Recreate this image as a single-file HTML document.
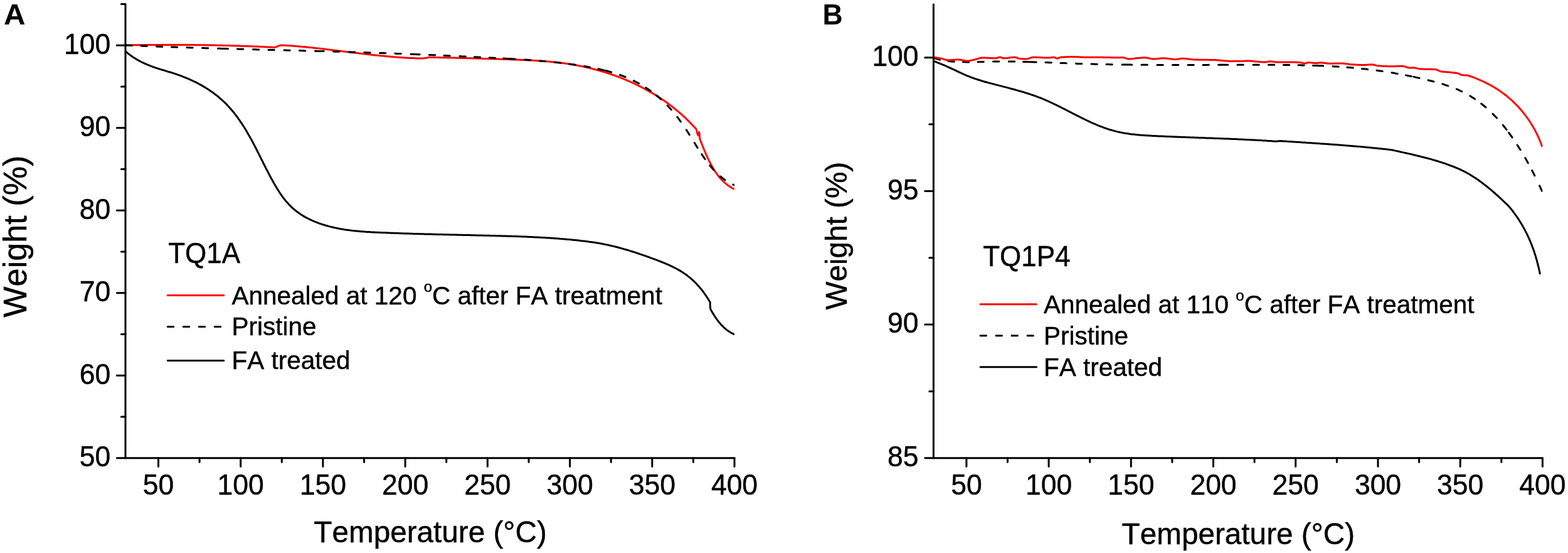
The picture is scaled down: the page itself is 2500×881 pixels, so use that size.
<!DOCTYPE html>
<html lang="en">
<head>
<meta charset="utf-8">
<title>TGA weight loss curves: TQ1A and TQ1P4</title>
<style>
html,body{margin:0;padding:0;background:#fff;}
body{width:2500px;height:881px;overflow:hidden;}
svg{display:block;}
text{font-family:"Liberation Sans",sans-serif;fill:#000;font-kerning:none;stroke:#000;stroke-width:0.45px;stroke-linejoin:round;}
.pl{stroke-width:0;}
.tk{font-size:44.5px;}
.pl{font-size:44.5px;font-weight:bold;}
.ttl{font-size:44px;}
.lg{font-size:40.5px;}
.sup{font-size:24px;}
.xt{font-size:47.7px;}
.yt{font-size:52.2px;}
</style>
</head>
<body>
<svg width="2500" height="881" viewBox="0 0 2500 881">
<rect width="2500" height="881" fill="#fff"/>
<g id="panelA">
<clipPath id="cA"><rect x="200.0" y="0" width="971.0" height="729.7"/></clipPath>
<g clip-path="url(#cA)" fill="none" stroke-width="3" stroke-linejoin="round">
<path d="M200.0 72.0L202.0 72.0L204.0 71.9L206.1 71.9L208.1 71.9L210.1 71.9L212.1 71.8L214.1 71.8L216.1 71.8L218.2 71.8L220.2 71.8L222.2 71.7L224.2 71.7L226.2 71.7L228.2 71.7L230.3 71.7L232.3 71.6L234.3 71.6L236.3 71.6L238.3 71.6L240.4 71.6L242.4 71.6L244.4 71.6L246.4 71.5L248.4 71.5L250.4 71.5L252.5 71.5L254.5 71.5L256.5 71.5L258.5 71.5L260.5 71.5L262.5 71.5L264.6 71.5L266.6 71.5L268.6 71.5L270.6 71.5L272.6 71.5L274.7 71.5L276.7 71.5L278.7 71.5L280.7 71.5L282.7 71.5L284.7 71.5L286.8 71.5L288.8 71.5L290.8 71.5L292.8 71.5L294.8 71.5L296.8 71.5L298.9 71.6L300.9 71.6L302.9 71.6L304.9 71.6L306.9 71.6L309.0 71.6L311.0 71.7L313.0 71.7L315.0 71.7L317.0 71.7L319.0 71.7L321.1 71.8L323.1 71.8L325.1 71.8L327.1 71.8L329.1 71.9L331.1 71.9L333.2 71.9L335.2 72.0L337.2 72.0L339.2 72.0L341.2 72.1L343.2 72.1L345.3 72.2L347.3 72.2L349.3 72.2L351.3 72.3L353.3 72.3L355.4 72.4L357.4 72.4L359.4 72.5L361.4 72.5L363.4 72.6L365.4 72.6L367.5 72.7L369.5 72.7L371.5 72.8L373.5 72.9L375.5 72.9L377.5 73.0L379.6 73.0L381.6 73.1L383.6 73.2L385.6 73.2L387.6 73.3L389.6 73.4L391.7 73.4L393.7 73.5L395.7 73.6L397.7 73.7L399.7 73.7L401.7 73.8L403.8 73.9L405.8 74.0L407.8 74.1L409.8 74.1L411.8 74.2L413.8 74.3L415.8 74.4L417.9 74.5L419.9 74.6L421.9 74.7L423.9 74.8L425.9 74.9L427.9 75.0L430.0 75.1L432.0 75.2L434.0 75.3L436.0 75.4L436.0 75.4L438.5 75.4L440.7 74.7L442.9 73.6L445.2 72.8L447.6 72.3L450.0 72.1L450.0 72.1L452.0 72.2L454.0 72.3L456.0 72.4L458.1 72.6L460.1 72.7L462.1 72.8L464.1 73.0L466.1 73.1L468.1 73.3L470.1 73.4L472.1 73.6L474.1 73.7L476.2 73.9L478.2 74.1L480.2 74.3L482.2 74.4L484.2 74.6L486.2 74.8L488.2 75.0L490.2 75.2L492.2 75.4L494.2 75.6L496.2 75.8L498.3 76.0L500.3 76.2L502.3 76.4L504.3 76.7L506.3 76.9L508.3 77.1L510.3 77.3L512.3 77.6L514.3 77.8L516.3 78.0L518.3 78.2L520.3 78.5L522.3 78.7L524.3 79.0L526.3 79.2L528.3 79.4L530.3 79.7L532.3 79.9L534.3 80.2L536.3 80.4L538.4 80.7L540.4 80.9L542.4 81.2L544.4 81.4L546.4 81.7L548.4 81.9L550.4 82.2L552.4 82.4L554.4 82.7L556.4 82.9L558.4 83.2L560.4 83.4L562.4 83.7L564.4 83.9L566.4 84.1L568.4 84.4L570.4 84.6L572.4 84.9L574.4 85.1L576.4 85.4L578.4 85.6L580.4 85.8L582.4 86.1L584.5 86.3L586.5 86.5L588.5 86.8L590.5 87.0L592.5 87.2L594.5 87.5L596.5 87.7L598.5 87.9L600.5 88.1L602.5 88.3L604.5 88.5L606.5 88.7L608.5 88.9L610.5 89.1L612.5 89.3L614.6 89.5L616.6 89.7L618.6 89.9L620.6 90.1L622.6 90.3L624.6 90.4L626.6 90.6L628.6 90.8L630.6 90.9L632.6 91.1L634.7 91.2L636.7 91.4L638.7 91.5L640.7 91.7L642.7 91.8L644.7 91.9L646.7 92.0L648.8 92.2L650.8 92.3L652.8 92.4L654.8 92.5L656.8 92.6L658.8 92.6L660.9 92.7L662.9 92.8L664.9 92.9L666.9 92.9L668.9 93.0L671.0 93.0L673.0 93.1L675.0 93.1L675.0 93.1L678.0 92.6L681.0 92.0L684.0 91.3L684.0 91.3L686.0 91.3L688.0 91.4L690.0 91.4L692.1 91.5L694.1 91.5L696.1 91.5L698.1 91.6L700.1 91.6L702.1 91.7L704.1 91.7L706.1 91.7L708.2 91.8L710.2 91.8L712.2 91.9L714.2 91.9L716.2 92.0L718.2 92.0L720.2 92.1L722.2 92.1L724.2 92.1L726.3 92.2L728.3 92.2L730.3 92.3L732.3 92.3L734.3 92.4L736.3 92.4L738.3 92.5L740.3 92.5L742.3 92.6L744.3 92.6L746.4 92.7L748.4 92.7L750.4 92.8L752.4 92.8L754.4 92.9L756.4 93.0L758.4 93.0L760.4 93.1L762.4 93.1L764.4 93.2L766.4 93.2L768.5 93.3L770.5 93.4L772.5 93.4L774.5 93.5L776.5 93.5L778.5 93.6L780.5 93.7L782.5 93.7L784.5 93.8L786.5 93.8L788.6 93.9L790.6 94.0L792.6 94.0L794.6 94.1L796.6 94.2L798.6 94.2L800.6 94.3L802.6 94.4L804.7 94.4L806.7 94.5L808.7 94.6L810.7 94.6L812.7 94.7L814.7 94.8L816.7 94.8L818.7 94.9L820.8 95.0L822.8 95.1L824.8 95.1L826.8 95.2L828.8 95.3L830.8 95.4L832.8 95.5L834.9 95.5L836.9 95.6L838.9 95.7L840.9 95.8L842.9 95.9L844.9 96.0L846.9 96.1L849.0 96.2L851.0 96.4L853.0 96.5L855.0 96.6L857.0 96.7L859.0 96.9L861.0 97.0L863.0 97.1L865.0 97.3L867.0 97.4L869.1 97.6L871.1 97.8L873.1 97.9L875.1 98.1L877.1 98.3L879.1 98.5L881.1 98.7L883.1 98.9L885.1 99.1L887.1 99.3L889.1 99.5L891.1 99.8L893.1 100.0L895.1 100.3L897.1 100.5L899.1 100.8L901.0 101.1L903.0 101.3L905.0 101.6L907.0 101.9L909.0 102.2L911.0 102.6L913.0 102.9L914.9 103.2L916.9 103.6L918.9 103.9L920.9 104.3L922.9 104.7L924.8 105.1L926.8 105.5L928.8 105.9L930.7 106.3L932.7 106.7L934.7 107.2L936.6 107.6L938.6 108.1L940.5 108.5L942.5 109.0L944.4 109.5L946.4 110.0L948.3 110.5L950.3 111.0L952.2 111.5L954.2 112.1L956.1 112.6L958.0 113.2L960.0 113.7L961.9 114.3L963.8 114.9L965.7 115.5L967.6 116.1L969.6 116.7L971.5 117.3L973.4 118.0L975.3 118.6L977.2 119.3L979.1 119.9L981.0 120.6L982.8 121.3L984.7 122.0L986.6 122.7L988.5 123.4L990.4 124.2L992.2 124.9L994.1 125.6L996.0 126.4L997.8 127.2L999.7 128.0L1001.5 128.8L1003.4 129.6L1005.2 130.4L1007.0 131.2L1008.9 132.0L1010.7 132.9L1012.5 133.7L1014.3 134.6L1016.1 135.5L1018.0 136.4L1019.8 137.3L1021.6 138.2L1023.3 139.1L1025.1 140.0L1026.9 141.0L1028.7 141.9L1030.5 142.9L1032.2 143.9L1034.0 144.9L1035.7 145.9L1037.5 146.9L1039.2 147.9L1041.0 148.9L1042.7 150.0L1044.4 151.0L1046.1 152.1L1047.8 153.2L1049.5 154.2L1051.2 155.3L1052.9 156.4L1054.6 157.6L1056.3 158.7L1057.9 159.8L1059.6 161.0L1061.2 162.1L1062.9 163.3L1064.5 164.5L1066.1 165.7L1067.8 166.9L1069.4 168.1L1071.0 169.3L1072.6 170.5L1074.1 171.8L1075.7 173.0L1077.3 174.3L1078.8 175.6L1080.4 176.9L1081.9 178.2L1083.5 179.5L1085.0 180.8L1086.5 182.1L1088.0 183.4L1089.5 184.8L1091.0 186.1L1092.4 187.5L1093.9 188.9L1095.3 190.3L1096.8 191.7L1098.2 193.1L1099.6 194.5L1101.0 196.0L1102.4 197.4L1103.8 198.9L1105.2 200.3L1106.5 201.8L1107.9 203.3L1109.2 204.8L1110.5 206.3L1110.5 206.3L1110.9 208.5L1111.4 210.6L1112.1 213.0L1113.0 215.4L1113.7 215.7L1114.3 213.1L1114.7 210.6L1115.0 211.2L1115.2 213.5L1115.3 216.3L1115.6 218.7L1116.0 220.9L1116.5 223.0L1116.5 223.0L1117.3 224.9L1118.0 226.8L1118.8 228.7L1119.5 230.6L1120.3 232.5L1121.1 234.5L1121.9 236.4L1122.6 238.3L1123.4 240.3L1124.3 242.2L1125.1 244.1L1125.9 246.1L1126.8 248.0L1127.6 249.9L1128.5 251.8L1129.4 253.7L1130.3 255.6L1131.3 257.5L1132.2 259.4L1133.2 261.3L1134.2 263.1L1135.2 265.0L1136.3 266.8L1137.3 268.6L1138.4 270.3L1139.5 272.1L1140.7 273.8L1141.9 275.5L1143.1 277.2L1144.3 278.9L1145.6 280.5L1146.9 282.1L1148.2 283.7L1149.6 285.2L1151.0 286.7L1152.4 288.2L1153.9 289.6L1155.4 291.0L1157.0 292.3L1158.6 293.6L1160.2 294.9L1161.9 296.1L1163.6 297.3L1165.4 298.4L1167.2 299.5L1169.1 300.5L1171.0 301.5" stroke="#f00"/>
<path d="M201.5 72.1L204.6 72.2L207.7 72.3L210.8 72.5M225.0 73.1L228.1 73.2L231.2 73.3L234.3 73.4M249.5 74.0L252.6 74.2L255.7 74.3L258.8 74.4M273.5 74.9L276.6 75.0L279.7 75.1L282.8 75.2M298.0 75.7L301.1 75.8L304.2 75.9L307.3 76.0M322.5 76.5L325.6 76.6L328.7 76.7L331.8 76.8M347.5 77.2L350.6 77.3L353.7 77.4L356.8 77.5M354.3 77.4L357.4 77.5L360.5 77.6L363.6 77.7M378.5 78.1L381.6 78.2L384.7 78.2L387.8 78.3M403.5 78.7L406.6 78.8L409.7 78.9L412.8 79.0M428.0 79.4L431.1 79.4L434.2 79.5L437.3 79.6M453.0 80.0L456.1 80.1L459.2 80.2L462.3 80.2M477.5 80.6L480.6 80.7L483.7 80.8L486.8 80.9M502.5 81.3L505.6 81.4L508.7 81.4L511.8 81.5M506.9 81.4L510.0 81.5L513.1 81.6L516.2 81.6M531.5 82.1L534.6 82.2L537.7 82.2L540.8 82.3M556.5 82.8L559.6 82.9L562.7 83.0L565.8 83.1M581.0 83.6L584.1 83.7L587.2 83.8L590.3 83.9M605.5 84.4L608.6 84.5L611.7 84.6L614.8 84.7M630.0 85.2L633.1 85.4L636.2 85.5L639.3 85.6M655.0 86.2L658.1 86.3L661.2 86.5L664.3 86.6M659.9 86.4L663.0 86.5L666.1 86.7L669.2 86.8M684.5 87.4L687.6 87.6L690.7 87.7L693.8 87.8M708.0 88.5L711.1 88.6L714.2 88.7L717.3 88.9M733.0 89.6L736.1 89.8L739.2 89.9L742.3 90.0M756.5 90.7L759.6 90.9L762.7 91.0L765.8 91.2M780.5 91.9L783.6 92.1L786.7 92.2L789.8 92.4M803.0 93.1L806.1 93.3L809.2 93.4L812.3 93.6M812.5 93.6L815.6 93.8L818.7 94.0L821.8 94.2M836.5 95.1L839.6 95.3L842.7 95.5L845.8 95.7M860.5 96.9L863.6 97.2L866.7 97.4L869.8 97.7M884.5 99.2L887.6 99.5L890.7 99.8L893.7 100.2M908.0 102.0L911.1 102.4L914.1 102.8L917.2 103.3M931.5 105.5L934.5 106.1L937.6 106.6L940.6 107.2M954.0 109.8L957.0 110.5L960.0 111.2L963.0 111.9M965.7 112.5L968.7 113.3L971.7 114.1L974.6 115.0M988.4 119.4L991.3 120.4L994.2 121.5L997.1 122.7M1010.3 128.6L1013.1 130.0L1015.9 131.5L1018.6 132.9M1029.8 139.7L1032.3 141.4L1034.9 143.1L1037.4 144.9M1046.7 152.0L1049.1 154.0L1051.4 156.0L1053.7 158.1M1064.0 168.0L1066.2 170.2L1068.3 172.5L1070.4 174.8M1079.9 186.3L1081.8 188.8L1083.6 191.3L1085.4 193.8M1094.3 206.9L1096.0 209.5L1097.7 212.2L1099.3 214.8M1107.3 227.6L1108.9 230.3L1110.6 232.9L1112.2 235.5M1118.8 245.7L1120.6 248.3L1122.3 250.8L1124.1 253.4M1131.9 263.7L1133.9 266.1L1135.9 268.5L1138.0 270.8M1148.6 281.0L1151.0 283.0L1153.5 284.9L1156.0 286.7M1168.9 294.0L1171.0 295.0" stroke="#000" stroke-linecap="round"/>
<path d="M200.0 81.7L201.6 83.0L203.1 84.3L204.7 85.6L206.3 86.8L207.9 88.0L209.6 89.2L211.2 90.4L212.9 91.5L214.6 92.5L216.3 93.6L218.0 94.6L219.8 95.6L221.5 96.6L223.3 97.5L225.0 98.5L226.8 99.4L228.6 100.2L230.4 101.1L232.2 101.9L234.1 102.7L235.9 103.5L237.8 104.2L239.6 104.9L241.5 105.6L243.4 106.3L245.3 107.0L247.1 107.6L249.0 108.3L250.9 108.9L252.9 109.5L254.8 110.1L256.7 110.7L258.6 111.3L260.5 111.8L262.5 112.4L264.4 113.0L266.3 113.6L268.2 114.2L270.2 114.7L272.1 115.3L274.0 115.9L275.9 116.5L277.8 117.1L279.8 117.8L281.7 118.4L283.6 119.1L285.5 119.7L287.4 120.4L289.3 121.1L291.1 121.8L293.0 122.6L294.9 123.3L296.8 124.1L298.6 124.9L300.5 125.6L302.3 126.4L304.1 127.3L306.0 128.1L307.8 129.0L309.6 129.8L311.4 130.7L313.2 131.6L315.0 132.5L316.7 133.5L318.5 134.4L320.3 135.4L322.0 136.4L323.7 137.4L325.5 138.4L327.2 139.4L328.9 140.5L330.6 141.5L332.2 142.6L333.9 143.7L335.6 144.9L337.2 146.0L338.8 147.1L340.4 148.3L342.0 149.5L343.6 150.7L345.2 151.9L346.8 153.2L348.3 154.4L349.8 155.7L351.3 157.0L352.8 158.3L354.3 159.6L355.8 161.0L357.2 162.3L358.7 163.7L360.1 165.1L361.5 166.6L362.9 168.0L364.2 169.5L365.6 170.9L366.9 172.4L368.2 173.9L369.5 175.4L370.8 177.0L372.1 178.5L373.4 180.1L374.6 181.7L375.8 183.3L377.1 184.9L378.3 186.5L379.5 188.1L380.6 189.8L381.8 191.4L382.9 193.1L384.1 194.8L385.2 196.4L386.3 198.1L387.4 199.8L388.5 201.5L389.6 203.2L390.7 205.0L391.7 206.7L392.8 208.4L393.8 210.2L394.8 211.9L395.8 213.7L396.8 215.4L397.8 217.2L398.8 219.0L399.8 220.7L400.8 222.5L401.7 224.3L402.7 226.0L403.6 227.8L404.6 229.6L405.5 231.4L406.4 233.2L407.4 235.0L408.3 236.7L409.2 238.5L410.1 240.3L411.0 242.1L411.9 243.9L412.8 245.7L413.7 247.5L414.6 249.3L415.5 251.0L416.4 252.8L417.3 254.6L418.2 256.4L419.1 258.2L419.9 260.0L420.8 261.8L421.7 263.5L422.6 265.3L423.5 267.1L424.4 268.9L425.4 270.7L426.3 272.4L427.2 274.2L428.1 276.0L429.0 277.7L430.0 279.5L430.9 281.3L431.9 283.0L432.8 284.8L433.8 286.5L434.8 288.3L435.7 290.0L436.7 291.8L437.7 293.5L438.7 295.2L439.8 297.0L440.8 298.7L441.8 300.4L442.9 302.1L444.0 303.8L445.0 305.5L446.1 307.2L447.3 308.8L448.4 310.5L449.6 312.1L450.7 313.8L451.9 315.4L453.2 317.0L454.4 318.6L455.7 320.1L456.9 321.6L458.3 323.1L459.6 324.6L461.0 326.1L462.4 327.5L463.8 328.9L465.3 330.3L466.7 331.6L468.2 333.0L469.8 334.2L471.3 335.5L472.9 336.8L474.5 338.0L476.1 339.1L477.8 340.3L479.4 341.4L481.1 342.5L482.8 343.6L484.6 344.6L486.3 345.6L488.1 346.6L489.9 347.5L491.6 348.4L493.5 349.3L495.3 350.2L497.1 351.0L499.0 351.8L500.8 352.6L502.7 353.4L504.6 354.1L506.4 354.9L508.3 355.6L510.2 356.2L512.1 356.9L514.0 357.5L515.9 358.1L517.9 358.7L519.8 359.3L521.7 359.8L523.6 360.4L525.6 360.9L527.5 361.4L529.4 361.8L531.4 362.3L533.3 362.7L535.3 363.1L537.2 363.6L539.2 363.9L541.2 364.3L543.1 364.7L545.1 365.0L547.1 365.3L549.0 365.7L551.0 366.0L553.0 366.2L555.0 366.5L556.9 366.8L558.9 367.0L560.9 367.3L562.9 367.5L564.9 367.7L566.9 367.9L568.9 368.1L570.9 368.3L572.9 368.5L574.9 368.7L576.9 368.8L578.9 369.0L580.9 369.1L582.9 369.3L584.9 369.4L586.9 369.5L588.9 369.6L591.0 369.7L593.0 369.9L595.0 370.0L597.0 370.1L599.0 370.2L601.0 370.2L603.0 370.3L605.0 370.4L607.1 370.5L609.1 370.6L611.1 370.7L613.1 370.8L615.1 370.8L617.1 370.9L619.1 371.0L621.1 371.1L623.1 371.2L625.2 371.2L627.2 371.3L629.2 371.4L631.2 371.4L633.2 371.5L635.2 371.6L637.2 371.7L639.2 371.7L641.2 371.8L643.2 371.9L645.2 371.9L647.2 372.0L649.3 372.1L651.3 372.1L653.3 372.2L655.3 372.2L657.3 372.3L659.3 372.4L661.3 372.4L663.3 372.5L665.3 372.5L667.3 372.6L669.3 372.7L671.3 372.7L673.3 372.8L675.3 372.8L677.3 372.9L679.3 372.9L681.3 373.0L683.3 373.0L685.3 373.1L687.3 373.1L689.3 373.2L691.4 373.3L693.4 373.3L695.4 373.4L697.4 373.4L699.4 373.5L701.4 373.5L703.4 373.6L705.4 373.6L707.4 373.7L709.4 373.7L711.4 373.7L713.4 373.8L715.4 373.8L717.4 373.9L719.4 373.9L721.4 374.0L723.4 374.0L725.4 374.1L727.4 374.1L729.4 374.2L731.4 374.2L733.4 374.3L735.4 374.3L737.4 374.4L739.4 374.4L741.4 374.4L743.4 374.5L745.4 374.5L747.4 374.6L749.4 374.6L751.4 374.7L753.4 374.7L755.4 374.8L757.4 374.8L759.4 374.9L761.4 374.9L763.5 375.0L765.5 375.0L767.5 375.1L769.5 375.1L771.5 375.2L773.5 375.2L775.5 375.2L777.5 375.3L779.5 375.3L781.5 375.4L783.5 375.4L785.5 375.5L787.5 375.5L789.5 375.6L791.5 375.7L793.5 375.7L795.5 375.8L797.5 375.8L799.5 375.9L801.5 375.9L803.5 376.0L805.6 376.0L807.6 376.1L809.6 376.2L811.6 376.2L813.6 376.3L815.6 376.3L817.6 376.4L819.6 376.5L821.6 376.5L823.6 376.6L825.6 376.7L827.6 376.8L829.6 376.8L831.6 376.9L833.6 377.0L835.6 377.1L837.7 377.1L839.7 377.2L841.7 377.3L843.7 377.4L845.7 377.5L847.7 377.6L849.7 377.7L851.7 377.8L853.7 377.9L855.7 378.0L857.7 378.1L859.7 378.2L861.7 378.3L863.7 378.4L865.7 378.5L867.7 378.6L869.7 378.8L871.7 378.9L873.7 379.0L875.8 379.1L877.8 379.3L879.8 379.4L881.8 379.5L883.8 379.7L885.8 379.8L887.8 380.0L889.8 380.1L891.8 380.3L893.8 380.4L895.8 380.6L897.8 380.7L899.8 380.9L901.8 381.1L903.8 381.3L905.8 381.4L907.8 381.6L909.8 381.8L911.8 382.0L913.8 382.2L915.8 382.4L917.8 382.6L919.8 382.8L921.8 383.0L923.8 383.2L925.8 383.4L927.8 383.7L929.8 383.9L931.8 384.1L933.8 384.4L935.7 384.6L937.7 384.9L939.7 385.2L941.7 385.4L943.7 385.7L945.7 386.0L947.7 386.3L949.6 386.6L951.6 386.9L953.6 387.3L955.6 387.6L957.5 387.9L959.5 388.3L961.5 388.7L963.4 389.1L965.4 389.5L967.4 389.9L969.3 390.3L971.3 390.7L973.2 391.2L975.2 391.6L977.1 392.1L979.0 392.5L981.0 393.0L982.9 393.5L984.9 394.0L986.8 394.5L988.7 395.0L990.7 395.6L992.6 396.1L994.5 396.7L996.4 397.2L998.4 397.8L1000.3 398.3L1002.2 398.9L1004.1 399.5L1006.0 400.1L1007.9 400.7L1009.8 401.3L1011.8 401.9L1013.7 402.5L1015.6 403.2L1017.5 403.8L1019.4 404.4L1021.3 405.1L1023.2 405.7L1025.1 406.4L1027.0 407.0L1028.9 407.7L1030.8 408.4L1032.7 409.0L1034.6 409.7L1036.5 410.4L1038.4 411.1L1040.3 411.8L1042.2 412.5L1044.1 413.2L1046.0 413.9L1047.9 414.6L1049.8 415.3L1051.7 416.0L1053.5 416.8L1055.4 417.5L1057.3 418.3L1059.2 419.0L1061.0 419.8L1062.9 420.6L1064.7 421.4L1066.5 422.2L1068.4 423.1L1070.2 423.9L1072.0 424.8L1073.8 425.7L1075.6 426.6L1077.4 427.5L1079.1 428.4L1080.9 429.4L1082.6 430.4L1084.3 431.4L1086.0 432.4L1087.7 433.5L1089.4 434.6L1091.0 435.7L1092.7 436.8L1094.3 438.0L1095.9 439.1L1097.5 440.4L1099.0 441.6L1100.6 442.9L1102.1 444.1L1103.6 445.5L1105.1 446.8L1106.5 448.2L1108.0 449.6L1109.4 451.0L1110.8 452.4L1112.1 453.9L1113.5 455.4L1114.8 456.9L1116.1 458.4L1117.4 460.0L1118.7 461.5L1119.9 463.1L1121.1 464.7L1122.3 466.3L1123.5 468.0L1124.6 469.6L1125.8 471.3L1126.9 473.0L1128.0 474.7L1129.1 476.4L1130.1 478.1L1131.2 479.8L1132.2 481.5L1132.2 481.5L1132.2 484.4L1132.3 487.3L1132.5 490.1L1133.0 493.0L1133.0 493.0L1134.0 494.8L1135.1 496.6L1136.1 498.3L1137.2 500.1L1138.3 501.9L1139.5 503.6L1140.6 505.4L1141.8 507.1L1143.0 508.8L1144.2 510.5L1145.5 512.1L1146.8 513.7L1148.1 515.3L1149.5 516.9L1150.9 518.4L1152.4 519.9L1153.8 521.3L1155.3 522.7L1156.9 524.1L1158.5 525.4L1160.1 526.6L1161.8 527.8L1163.6 528.9L1165.4 530.0L1167.2 531.0L1169.1 531.9L1171.0 532.8" stroke="#000"/>
</g>
<path d="M200.0 6.9V729.7H1171.0" fill="none" stroke="#000" stroke-width="3" stroke-linecap="round" stroke-linejoin="miter"/>
<path d="M200.0 72.2h-13.6M200.0 203.7h-13.6M200.0 335.2h-13.6M200.0 466.7h-13.6M200.0 598.2h-13.6M200.0 729.7h-13.6M200.0 6.5h-6.6M200.0 137.9h-6.6M200.0 269.4h-6.6M200.0 400.9h-6.6M200.0 532.5h-6.6M200.0 664.0h-6.6M252.5 729.7v13.6M383.7 729.7v13.6M514.9 729.7v13.6M646.1 729.7v13.6M777.3 729.7v13.6M908.6 729.7v13.6M1039.8 729.7v13.6M1171.0 729.7v13.6M318.1 729.7v6.6M449.3 729.7v6.6M580.5 729.7v6.6M711.7 729.7v6.6M843.0 729.7v6.6M974.2 729.7v6.6M1105.4 729.7v6.6" fill="none" stroke="#000" stroke-width="3" stroke-linecap="round"/>
<text class="tk" transform="translate(176.2 85.6) scale(1 1.04)" text-anchor="end">100</text>
<text class="tk" transform="translate(176.2 217.1) scale(1 1.04)" text-anchor="end">90</text>
<text class="tk" transform="translate(176.2 348.6) scale(1 1.04)" text-anchor="end">80</text>
<text class="tk" transform="translate(176.2 480.1) scale(1 1.04)" text-anchor="end">70</text>
<text class="tk" transform="translate(176.2 611.6) scale(1 1.04)" text-anchor="end">60</text>
<text class="tk" transform="translate(176.2 743.1) scale(1 1.04)" text-anchor="end">50</text>
<text class="tk" transform="translate(252.5 788.0) scale(1 1.04)" text-anchor="middle">50</text>
<text class="tk" transform="translate(383.7 788.0) scale(1 1.04)" text-anchor="middle">100</text>
<text class="tk" transform="translate(514.9 788.0) scale(1 1.04)" text-anchor="middle">150</text>
<text class="tk" transform="translate(646.1 788.0) scale(1 1.04)" text-anchor="middle">200</text>
<text class="tk" transform="translate(777.3 788.0) scale(1 1.04)" text-anchor="middle">250</text>
<text class="tk" transform="translate(908.6 788.0) scale(1 1.04)" text-anchor="middle">300</text>
<text class="tk" transform="translate(1039.8 788.0) scale(1 1.04)" text-anchor="middle">350</text>
<text class="tk" transform="translate(1171.0 788.0) scale(1 1.04)" text-anchor="middle">400</text>
<text class="pl" transform="translate(5.9 39.2) scale(1.075 1.04)">A</text>
<text class="yt" transform="translate(41.9 376.6) rotate(-90)" text-anchor="middle">Weight (%)</text>
<text class="xt" transform="translate(686.0 864.2)" text-anchor="middle">Temperature (°C)</text>
<text class="ttl" transform="translate(268.2 418.6) scale(1 1.04)">TQ1A</text>
<path d="M267.3 470.6h89.5" stroke="#f00" stroke-width="3" stroke-linecap="round" fill="none"/>
<path d="M267.3 520.6h89.5" stroke="#000" stroke-width="3" stroke-linecap="round" stroke-dasharray="9.4 15.6" fill="none"/>
<path d="M267.3 574.6h89.5" stroke="#000" stroke-width="3" stroke-linecap="round" fill="none"/>
<text class="lg" transform="translate(369.4 484.7)">Annealed at 120 <tspan class="sup" dy="-19.6">o</tspan><tspan dy="19.6">C after FA treatment</tspan></text>
<text class="lg" transform="translate(369.4 534.3)">Pristine</text>
<text class="lg" transform="translate(369.4 588.4)">FA treated</text>
</g>
<g id="panelB">
<clipPath id="cB"><rect x="1488.4" y="0" width="971.0" height="729.7"/></clipPath>
<g clip-path="url(#cB)" fill="none" stroke-width="3" stroke-linejoin="round">
<path d="M1489.8 92.5L1492.7 93.5L1495.7 94.4L1498.7 95.2M1512.0 97.3L1515.1 97.7L1518.2 97.9L1521.3 98.2M1535.5 98.8L1538.6 98.8L1541.7 98.9L1544.8 98.9M1559.0 98.7L1562.1 98.6L1565.2 98.5L1568.3 98.4M1583.5 98.1L1586.6 98.1L1589.7 98.0L1592.8 98.0M1608.5 98.0L1611.6 98.0L1614.7 98.1L1617.8 98.1M1631.5 98.4L1634.6 98.5L1637.7 98.5L1640.8 98.6M1643.0 98.7L1646.1 98.8L1649.2 98.9L1652.3 99.0M1667.0 99.5L1670.1 99.6L1673.2 99.7L1676.3 99.8M1691.0 100.4L1694.1 100.5L1697.2 100.6L1700.3 100.7M1715.5 101.3L1718.6 101.4L1721.7 101.5L1724.8 101.6M1740.0 102.0L1743.1 102.1L1746.2 102.2L1749.3 102.3M1764.0 102.6L1767.1 102.6L1770.2 102.7L1773.3 102.7M1789.0 103.0L1792.1 103.0L1795.2 103.1L1798.3 103.1M1795.5 103.1L1798.6 103.1L1801.7 103.1L1804.8 103.2M1820.0 103.3L1823.1 103.3L1826.2 103.3L1829.3 103.3M1845.0 103.4L1848.1 103.4L1851.2 103.4L1854.3 103.4M1869.5 103.5L1872.6 103.5L1875.7 103.5L1878.8 103.4M1894.0 103.4L1897.1 103.4L1900.2 103.4L1903.3 103.4M1918.0 103.4L1921.1 103.4L1924.2 103.4L1927.3 103.3M1942.5 103.3L1945.6 103.3L1948.7 103.3L1951.8 103.3M1948.5 103.3L1951.6 103.3L1954.7 103.3L1957.8 103.3M1973.0 103.2L1976.1 103.2L1979.2 103.2L1982.3 103.2M1998.0 103.2L2001.1 103.2L2004.2 103.2L2007.3 103.2M2022.5 103.3L2025.6 103.3L2028.7 103.3L2031.8 103.3M2046.5 103.4L2049.6 103.5L2052.7 103.5L2055.8 103.5M2070.0 103.8L2073.1 103.8L2076.2 103.9L2079.3 104.0M2093.5 104.4L2096.6 104.5L2099.7 104.6L2102.8 104.7M2100.5 104.6L2103.6 104.7L2106.7 104.8L2109.8 105.0M2125.0 105.7L2128.1 105.9L2131.2 106.1L2134.3 106.3M2148.0 107.3L2151.1 107.5L2154.2 107.8L2157.3 108.1M2171.5 109.4L2174.6 109.8L2177.7 110.1L2180.7 110.5M2195.0 112.3L2198.1 112.7L2201.1 113.1L2204.2 113.5M2219.0 115.8L2222.0 116.3L2225.1 116.9L2228.1 117.4M2241.5 119.9L2244.5 120.5L2247.6 121.1L2250.6 121.7M2254.0 122.4L2257.0 123.1L2260.0 123.7L2263.1 124.4M2277.0 127.7L2280.0 128.5L2283.0 129.2L2286.0 130.0M2299.9 133.9L2302.9 134.8L2305.8 135.8L2308.8 136.8M2322.4 141.9L2325.2 143.2L2328.0 144.5L2330.8 145.8M2343.8 152.8L2346.4 154.5L2349.0 156.1L2351.6 157.8M2361.7 165.1L2364.1 167.0L2366.5 169.0L2368.9 171.0M2380.1 181.4L2382.2 183.6L2384.4 185.8L2386.5 188.1M2396.3 199.3L2398.2 201.7L2400.1 204.1L2402.0 206.6M2405.7 211.5L2407.5 214.0L2409.3 216.5L2411.1 219.0M2419.1 231.0L2420.8 233.6L2422.5 236.2L2424.1 238.8M2431.8 251.6L2433.3 254.3L2434.8 257.0L2436.3 259.7M2442.7 271.5L2444.1 274.3L2445.5 277.0L2446.9 279.8M2454.6 295.9L2455.9 298.7L2457.2 301.5L2458.5 304.3" stroke="#000" stroke-linecap="round"/>
<path d="M1488.4 91.3L1490.4 91.5L1492.4 91.8L1494.4 92.1L1496.4 92.4L1498.3 92.7L1500.3 93.1L1502.3 93.5L1504.2 94.1L1506.2 94.7L1508.1 95.3L1510.1 95.7L1512.0 95.8L1514.0 95.8L1516.0 95.7L1518.0 95.5L1520.0 95.4L1522.0 95.2L1524.1 95.1L1526.1 95.0L1528.1 95.0L1530.1 95.1L1532.0 95.4L1534.0 95.8L1536.0 96.2L1538.0 96.6L1540.0 96.9L1542.0 97.0L1543.9 96.9L1545.9 96.7L1547.9 96.3L1549.9 95.9L1551.9 95.5L1553.8 95.0L1555.8 94.5L1557.7 94.0L1559.7 93.4L1561.6 92.8L1563.6 92.3L1565.5 92.0L1567.5 92.0L1569.5 92.1L1571.5 92.1L1573.5 92.2L1575.5 92.3L1577.6 92.4L1579.6 92.5L1581.6 92.6L1583.6 92.7L1585.6 92.8L1587.6 92.8L1589.5 92.5L1591.4 91.7L1593.3 91.1L1595.3 91.2L1597.2 92.0L1599.1 92.7L1601.1 92.8L1603.0 92.7L1605.0 92.5L1607.0 92.3L1609.1 92.0L1611.1 91.7L1613.1 91.5L1615.1 91.3L1617.1 91.2L1619.0 91.3L1621.0 91.8L1622.9 92.6L1624.8 93.3L1626.8 93.6L1628.7 93.7L1630.8 93.8L1632.8 93.9L1634.8 94.0L1636.8 94.0L1638.7 93.6L1640.7 93.1L1642.6 92.4L1644.6 91.8L1646.5 91.3L1648.5 91.2L1650.5 91.2L1652.5 91.3L1654.5 91.4L1656.5 91.5L1658.5 91.6L1660.5 91.7L1662.5 91.8L1664.5 91.9L1666.5 91.9L1668.6 92.0L1670.6 92.0L1672.6 91.9L1674.6 91.7L1676.6 91.4L1678.6 91.2L1680.5 91.2L1682.5 91.9L1684.3 92.9L1686.2 93.3L1688.0 92.4L1689.9 91.5L1691.8 91.3L1693.7 91.1L1695.7 91.0L1697.7 90.8L1699.7 90.7L1701.8 90.7L1703.8 90.6L1705.8 90.5L1707.9 90.5L1709.9 90.5L1711.9 90.5L1713.9 90.6L1715.9 90.6L1717.9 90.7L1719.9 90.8L1721.9 90.9L1723.9 91.0L1725.9 91.1L1727.9 91.2L1729.9 91.2L1731.9 91.2L1733.9 91.2L1736.0 91.2L1738.0 91.2L1740.0 91.2L1742.0 91.3L1744.0 91.3L1746.0 91.3L1748.0 91.3L1750.0 91.3L1752.0 91.3L1754.0 91.3L1756.0 91.3L1758.0 91.3L1760.0 91.4L1762.0 91.4L1764.0 91.5L1766.0 91.5L1768.1 91.6L1770.1 91.6L1772.1 91.7L1774.1 91.7L1776.1 91.8L1778.1 91.8L1780.1 91.8L1782.1 91.8L1784.1 91.7L1786.1 91.7L1788.1 91.6L1790.1 91.6L1792.1 91.9L1794.0 92.4L1796.0 93.1L1797.9 93.7L1799.9 94.0L1801.8 93.9L1803.8 93.8L1805.8 93.5L1807.8 93.3L1809.8 93.0L1811.8 92.8L1813.8 92.6L1815.8 92.4L1817.8 92.2L1819.8 92.0L1821.8 91.9L1823.8 91.8L1825.8 91.8L1827.8 92.0L1829.8 92.3L1831.8 92.7L1833.8 93.2L1835.8 93.6L1837.7 93.9L1839.7 94.0L1841.7 94.0L1843.7 93.8L1845.7 93.6L1847.7 93.4L1849.7 93.1L1851.7 92.9L1853.7 92.8L1855.7 92.8L1857.7 92.9L1859.7 93.0L1861.7 93.2L1863.7 93.5L1865.7 93.7L1867.7 94.0L1869.7 94.2L1871.7 94.4L1873.7 94.5L1875.7 94.5L1877.7 94.3L1879.7 93.9L1881.7 93.5L1883.7 93.3L1885.7 93.2L1887.7 93.3L1889.7 93.4L1891.7 93.6L1893.7 93.9L1895.6 94.1L1897.6 94.4L1899.6 94.6L1901.6 94.8L1903.6 94.9L1905.7 95.0L1907.7 95.1L1909.7 95.1L1911.7 95.2L1913.7 95.2L1915.7 95.2L1917.7 95.2L1919.7 95.3L1921.7 95.3L1923.7 95.3L1925.7 95.3L1927.7 95.4L1929.7 95.4L1931.7 95.4L1933.7 95.5L1935.7 95.5L1937.7 95.6L1939.7 95.7L1941.8 95.9L1943.8 96.0L1945.8 96.2L1947.8 96.4L1949.8 96.6L1951.8 96.8L1953.8 96.9L1955.8 97.1L1957.8 97.2L1959.8 97.4L1961.8 97.4L1963.8 97.5L1965.8 97.5L1967.8 97.5L1969.8 97.5L1971.8 97.5L1973.8 97.5L1975.8 97.5L1977.8 97.5L1979.8 97.5L1981.8 97.4L1983.8 97.3L1985.8 97.1L1987.8 97.0L1989.8 97.0L1991.8 97.1L1993.8 97.2L1995.8 97.3L1997.9 97.5L1999.9 97.7L2001.9 97.9L2003.9 98.1L2005.9 98.3L2007.9 98.5L2009.9 98.6L2011.9 98.8L2013.9 98.9L2015.9 99.0L2017.9 99.0L2019.8 98.8L2021.8 98.3L2023.8 97.9L2025.8 97.8L2027.8 98.0L2029.8 98.3L2031.7 98.6L2033.7 98.9L2035.7 99.0L2037.7 99.0L2039.7 99.0L2041.8 99.1L2043.8 99.1L2045.8 99.1L2047.8 99.1L2049.8 99.1L2051.8 99.1L2053.8 99.1L2055.8 99.1L2057.8 99.1L2059.8 99.1L2061.8 99.1L2063.9 99.1L2065.9 99.2L2067.9 99.2L2069.9 99.2L2071.8 99.3L2073.9 99.7L2075.9 100.1L2077.8 100.5L2079.8 100.8L2081.8 101.0L2083.7 100.4L2085.5 99.6L2087.5 99.5L2089.4 99.7L2091.4 99.9L2093.5 100.2L2095.5 100.4L2097.5 100.5L2099.5 100.4L2101.5 100.2L2103.5 99.9L2105.5 99.8L2107.5 99.9L2109.5 100.1L2111.5 100.4L2113.5 100.6L2115.5 100.9L2117.5 101.1L2119.5 101.2L2121.5 101.2L2123.5 101.2L2125.5 101.2L2127.5 101.1L2129.5 101.1L2131.5 101.1L2133.5 101.0L2135.5 101.0L2137.5 101.0L2139.5 101.0L2141.5 101.0L2143.5 101.2L2145.5 101.5L2147.5 101.8L2149.5 102.1L2151.5 102.4L2153.5 102.7L2155.5 102.8L2157.5 102.9L2159.5 103.0L2161.5 103.1L2163.5 103.2L2165.5 103.3L2167.5 103.4L2169.5 103.4L2171.5 103.5L2173.5 103.5L2175.5 103.5L2177.5 103.4L2179.5 103.3L2181.5 103.1L2183.6 103.0L2185.6 102.9L2187.5 102.8L2189.5 103.0L2191.4 103.5L2193.4 104.2L2195.4 104.5L2197.3 104.7L2199.3 104.9L2201.3 105.1L2203.3 105.2L2205.3 105.3L2207.3 105.4L2209.3 105.5L2211.4 105.6L2213.4 105.7L2215.4 105.8L2217.4 105.8L2219.4 105.8L2221.4 105.8L2223.4 105.7L2225.4 105.6L2227.4 105.5L2229.4 105.4L2231.4 105.3L2233.4 105.2L2235.4 105.2L2237.4 105.4L2239.4 105.9L2241.3 106.5L2243.3 107.2L2245.2 107.7L2247.2 108.0L2249.2 108.0L2251.2 107.9L2253.2 107.8L2255.2 108.0L2257.1 108.4L2259.1 108.9L2261.1 109.4L2263.0 109.8L2265.0 110.0L2267.0 110.1L2269.0 110.1L2271.1 110.2L2273.1 110.2L2275.1 110.2L2277.1 110.2L2279.2 110.3L2281.2 110.3L2283.2 110.3L2285.2 110.4L2287.1 110.5L2289.1 110.6L2291.0 111.2L2292.8 112.0L2294.7 112.9L2296.6 113.7L2298.5 114.1L2300.5 114.3L2302.5 114.4L2304.5 114.6L2306.5 114.7L2308.5 114.9L2310.5 115.1L2312.5 115.3L2314.6 115.5L2316.6 115.7L2318.6 115.9L2320.6 116.2L2322.5 116.5L2324.5 116.9L2326.3 117.5L2328.2 118.5L2330.0 119.2L2331.9 119.5L2333.9 119.7L2335.9 119.9L2337.9 120.0L2340.0 120.0L2340.0 120.0L2341.9 120.7L2343.9 121.3L2345.8 122.0L2347.7 122.7L2349.6 123.4L2351.5 124.2L2353.4 124.9L2355.3 125.7L2357.2 126.5L2359.1 127.2L2360.9 128.1L2362.8 128.9L2364.6 129.7L2366.5 130.6L2368.3 131.5L2370.1 132.4L2371.9 133.3L2373.7 134.2L2375.5 135.2L2377.3 136.1L2379.0 137.1L2380.8 138.1L2382.5 139.1L2384.2 140.2L2385.9 141.3L2387.6 142.3L2389.3 143.5L2391.0 144.6L2392.7 145.7L2394.3 146.9L2396.0 148.1L2397.6 149.3L2399.2 150.5L2400.8 151.7L2402.4 153.0L2403.9 154.3L2405.5 155.6L2407.0 156.9L2408.5 158.2L2410.1 159.6L2411.6 161.0L2413.0 162.4L2414.5 163.8L2415.9 165.2L2417.4 166.7L2418.8 168.1L2420.2 169.6L2421.6 171.1L2423.0 172.6L2424.3 174.2L2425.6 175.7L2427.0 177.3L2428.3 178.9L2429.5 180.5L2430.8 182.1L2432.1 183.7L2433.3 185.3L2434.5 187.0L2435.7 188.7L2436.9 190.3L2438.0 192.0L2439.2 193.7L2440.3 195.5L2441.4 197.2L2442.5 198.9L2443.5 200.7L2444.6 202.5L2445.6 204.3L2446.6 206.0L2447.6 207.8L2448.5 209.7L2449.5 211.5L2450.4 213.3L2451.3 215.1L2452.1 217.0L2453.0 218.9L2453.8 220.7L2454.6 222.6L2455.4 224.5L2456.2 226.4L2456.9 228.3L2457.6 230.2L2458.3 232.1L2459.0 234.0" stroke="#f00"/>
<path d="M1488.4 97.3L1490.3 98.0L1492.1 98.7L1494.0 99.4L1495.9 100.1L1497.7 100.9L1499.6 101.6L1501.5 102.4L1503.3 103.2L1505.2 103.9L1507.0 104.7L1508.8 105.5L1510.7 106.4L1512.5 107.2L1514.4 108.0L1516.2 108.8L1518.0 109.7L1519.8 110.5L1521.7 111.4L1523.5 112.2L1525.3 113.1L1527.1 114.0L1529.0 114.8L1530.8 115.7L1532.6 116.5L1534.4 117.4L1536.3 118.2L1538.1 119.0L1540.0 119.8L1541.8 120.6L1543.7 121.3L1545.5 122.0L1547.4 122.8L1549.3 123.5L1551.2 124.1L1553.0 124.8L1554.9 125.5L1556.8 126.1L1558.7 126.7L1560.6 127.3L1562.5 127.9L1564.4 128.5L1566.3 129.1L1568.3 129.7L1570.2 130.2L1572.1 130.8L1574.0 131.3L1576.0 131.9L1577.9 132.4L1579.8 132.9L1581.8 133.4L1583.7 133.9L1585.6 134.4L1587.6 134.9L1589.5 135.4L1591.5 135.9L1593.4 136.4L1595.4 136.9L1597.3 137.4L1599.3 137.9L1601.2 138.4L1603.1 138.9L1605.1 139.4L1607.0 139.9L1609.0 140.4L1610.9 141.0L1612.9 141.5L1614.8 142.0L1616.8 142.5L1618.7 143.0L1620.7 143.6L1622.6 144.1L1624.5 144.7L1626.5 145.2L1628.4 145.8L1630.3 146.3L1632.3 146.9L1634.2 147.5L1636.1 148.1L1638.0 148.7L1639.9 149.3L1641.8 149.9L1643.7 150.6L1645.6 151.2L1647.5 151.8L1649.4 152.5L1651.3 153.2L1653.2 153.9L1655.1 154.6L1656.9 155.3L1658.8 156.0L1660.7 156.7L1662.5 157.5L1664.4 158.3L1666.2 159.0L1668.0 159.8L1669.9 160.6L1671.7 161.4L1673.5 162.3L1675.3 163.1L1677.1 164.0L1678.9 164.8L1680.7 165.7L1682.5 166.5L1684.3 167.4L1686.1 168.3L1687.9 169.2L1689.7 170.1L1691.5 171.0L1693.3 171.9L1695.1 172.8L1696.9 173.7L1698.7 174.6L1700.5 175.5L1702.3 176.5L1704.0 177.4L1705.8 178.3L1707.6 179.2L1709.4 180.1L1711.2 181.1L1713.0 182.0L1714.8 182.9L1716.6 183.8L1718.4 184.7L1720.2 185.6L1722.0 186.5L1723.8 187.4L1725.6 188.3L1727.4 189.2L1729.3 190.1L1731.1 191.0L1732.9 191.9L1734.7 192.7L1736.6 193.6L1738.4 194.4L1740.2 195.3L1742.1 196.1L1743.9 196.9L1745.8 197.7L1747.6 198.5L1749.5 199.3L1751.4 200.0L1753.2 200.8L1755.1 201.5L1757.0 202.2L1758.9 202.9L1760.7 203.6L1762.6 204.3L1764.5 204.9L1766.4 205.6L1768.3 206.2L1770.2 206.8L1772.2 207.3L1774.1 207.9L1776.0 208.4L1777.9 208.9L1779.9 209.4L1781.8 209.9L1783.7 210.3L1785.7 210.7L1787.6 211.1L1789.6 211.5L1791.6 211.9L1793.5 212.2L1795.5 212.5L1797.5 212.8L1799.4 213.1L1801.4 213.4L1803.4 213.7L1805.4 213.9L1807.4 214.1L1809.4 214.3L1811.4 214.5L1813.4 214.7L1815.4 214.9L1817.4 215.1L1819.4 215.2L1821.4 215.4L1823.4 215.5L1825.4 215.7L1827.4 215.8L1829.4 215.9L1831.4 216.0L1833.4 216.1L1835.4 216.3L1837.5 216.4L1839.5 216.5L1841.5 216.6L1843.5 216.7L1845.5 216.8L1847.5 216.9L1849.5 217.0L1851.5 217.0L1853.5 217.1L1855.5 217.2L1857.6 217.3L1859.6 217.4L1861.6 217.5L1863.6 217.6L1865.6 217.7L1867.6 217.7L1869.6 217.8L1871.6 217.9L1873.6 218.0L1875.6 218.1L1877.6 218.2L1879.6 218.2L1881.6 218.3L1883.7 218.4L1885.7 218.5L1887.7 218.5L1889.7 218.6L1891.7 218.7L1893.7 218.8L1895.7 218.8L1897.7 218.9L1899.7 219.0L1901.7 219.1L1903.7 219.1L1905.7 219.2L1907.7 219.3L1909.7 219.3L1911.7 219.4L1913.7 219.5L1915.7 219.6L1917.7 219.6L1919.8 219.7L1921.8 219.8L1923.8 219.9L1925.8 219.9L1927.8 220.0L1929.8 220.1L1931.8 220.1L1933.8 220.2L1935.8 220.3L1937.8 220.4L1939.8 220.4L1941.8 220.5L1943.8 220.6L1945.8 220.7L1947.8 220.7L1949.8 220.8L1951.8 220.9L1953.8 221.0L1955.8 221.1L1957.8 221.1L1959.8 221.2L1961.8 221.3L1963.8 221.4L1965.8 221.5L1967.8 221.6L1969.8 221.6L1971.8 221.7L1973.9 221.8L1975.9 221.9L1977.9 222.0L1979.9 222.1L1981.9 222.2L1983.9 222.3L1985.9 222.4L1987.9 222.5L1989.9 222.6L1991.9 222.7L1993.9 222.8L1995.9 222.9L1997.9 223.0L1999.9 223.1L2001.9 223.2L2003.9 223.3L2005.9 223.4L2007.9 223.5L2009.9 223.6L2011.9 223.8L2013.9 223.9L2015.9 224.0L2018.0 224.1L2020.0 224.3L2022.0 224.4L2024.0 224.5L2026.0 224.6L2028.0 224.8L2030.0 224.9L2032.0 225.1L2034.0 225.2L2034.0 225.2L2036.7 225.0L2039.3 224.8L2042.0 224.6L2042.0 224.6L2044.0 224.7L2046.0 224.9L2048.1 225.0L2050.1 225.1L2052.1 225.3L2054.1 225.4L2056.2 225.5L2058.2 225.7L2060.2 225.8L2062.2 225.9L2064.3 226.1L2066.3 226.2L2068.3 226.3L2070.3 226.5L2072.4 226.6L2074.4 226.7L2076.4 226.9L2078.5 227.0L2080.5 227.1L2082.5 227.3L2084.5 227.4L2086.6 227.5L2088.6 227.7L2090.6 227.8L2092.6 227.9L2094.7 228.1L2096.7 228.2L2098.7 228.3L2100.7 228.5L2102.8 228.6L2104.8 228.8L2106.8 228.9L2108.8 229.0L2110.9 229.2L2112.9 229.3L2114.9 229.5L2116.9 229.6L2119.0 229.7L2121.0 229.9L2123.0 230.0L2125.0 230.2L2127.1 230.3L2129.1 230.5L2131.1 230.6L2133.1 230.8L2135.1 230.9L2137.2 231.1L2139.2 231.2L2141.2 231.4L2143.2 231.6L2145.3 231.7L2147.3 231.9L2149.3 232.0L2151.3 232.2L2153.4 232.4L2155.4 232.5L2157.4 232.7L2159.4 232.9L2161.4 233.0L2163.5 233.2L2165.5 233.4L2167.5 233.6L2169.5 233.8L2171.6 233.9L2173.6 234.1L2175.6 234.3L2177.6 234.5L2179.6 234.7L2181.7 234.9L2183.7 235.1L2185.7 235.3L2187.7 235.5L2189.7 235.7L2191.8 235.9L2193.8 236.1L2195.8 236.3L2197.8 236.5L2199.8 236.7L2201.9 236.9L2203.9 237.1L2205.9 237.4L2207.9 237.6L2209.9 237.8L2211.9 238.1L2214.0 238.3L2216.0 238.5L2218.0 238.8L2220.0 239.0L2220.0 239.0L2222.0 239.5L2224.0 239.9L2226.1 240.4L2228.1 240.8L2230.1 241.3L2232.2 241.7L2234.2 242.2L2236.2 242.6L2238.2 243.1L2240.3 243.5L2242.3 244.0L2244.3 244.4L2246.3 244.9L2248.3 245.3L2250.4 245.8L2252.4 246.3L2254.4 246.8L2256.4 247.2L2258.4 247.7L2260.5 248.2L2262.5 248.7L2264.5 249.2L2266.5 249.7L2268.5 250.2L2270.5 250.7L2272.5 251.2L2274.5 251.8L2276.5 252.3L2278.5 252.8L2280.5 253.4L2282.5 253.9L2284.5 254.5L2286.5 255.1L2288.5 255.7L2290.5 256.3L2292.5 256.9L2294.4 257.5L2296.4 258.1L2298.4 258.7L2300.4 259.4L2302.3 260.0L2304.3 260.7L2306.3 261.4L2308.2 262.1L2310.2 262.8L2312.1 263.5L2314.1 264.3L2316.0 265.0L2316.0 265.0L2317.9 265.7L2319.9 266.5L2321.8 267.3L2323.7 268.1L2325.6 268.9L2327.5 269.7L2329.3 270.6L2331.2 271.5L2333.0 272.4L2334.9 273.3L2336.7 274.3L2338.5 275.3L2340.3 276.3L2342.1 277.3L2343.8 278.3L2345.6 279.4L2347.3 280.5L2349.1 281.6L2350.8 282.7L2352.5 283.8L2354.2 285.0L2355.9 286.1L2357.6 287.3L2359.3 288.5L2361.0 289.7L2362.6 290.9L2364.3 292.2L2365.9 293.4L2367.6 294.7L2369.2 296.0L2370.8 297.2L2372.4 298.5L2374.0 299.8L2375.6 301.2L2377.2 302.5L2378.8 303.8L2380.3 305.2L2381.9 306.5L2383.5 307.9L2385.0 309.3L2386.5 310.6L2388.1 312.0L2389.6 313.4L2391.1 314.8L2392.6 316.2L2394.1 317.6L2395.6 319.0L2397.1 320.5L2398.6 321.9L2400.1 323.3L2401.6 324.7L2403.1 326.1L2404.5 327.6L2406.0 329.0L2406.0 329.0L2407.3 330.6L2408.6 332.2L2409.9 333.8L2411.2 335.4L2412.4 337.0L2413.6 338.6L2414.8 340.3L2416.0 341.9L2417.2 343.6L2418.4 345.2L2419.5 346.9L2420.7 348.6L2421.8 350.3L2422.9 352.0L2424.0 353.8L2425.0 355.5L2426.1 357.2L2427.1 359.0L2428.1 360.8L2429.1 362.5L2430.1 364.3L2431.0 366.1L2432.0 367.9L2432.9 369.7L2433.8 371.5L2434.7 373.3L2435.6 375.2L2436.5 377.0L2437.3 378.8L2438.2 380.7L2439.0 382.6L2439.8 384.4L2440.5 386.3L2441.3 388.2L2442.1 390.1L2442.8 392.0L2443.5 393.9L2444.2 395.8L2444.9 397.7L2445.6 399.6L2446.2 401.5L2446.8 403.5L2447.5 405.4L2448.1 407.4L2448.7 409.3L2449.2 411.3L2449.8 413.2L2450.4 415.2L2450.9 417.2L2451.4 419.1L2451.9 421.1L2452.4 423.1L2452.9 425.1L2453.4 427.0L2453.8 429.0L2454.3 431.0L2454.7 433.0L2455.1 435.0L2455.5 437.0" stroke="#000"/>
</g>
<path d="M1488.4 6.9V729.7H2459.4" fill="none" stroke="#000" stroke-width="3" stroke-linecap="round" stroke-linejoin="miter"/>
<path d="M1488.4 91.7h-13.6M1488.4 304.4h-13.6M1488.4 517.0h-13.6M1488.4 729.7h-13.6M1488.4 198.0h-6.6M1488.4 410.7h-6.6M1488.4 623.4h-6.6M1540.9 729.7v13.6M1672.1 729.7v13.6M1803.3 729.7v13.6M1934.5 729.7v13.6M2065.7 729.7v13.6M2197.0 729.7v13.6M2328.2 729.7v13.6M2459.4 729.7v13.6M1606.5 729.7v6.6M1737.7 729.7v6.6M1868.9 729.7v6.6M2000.1 729.7v6.6M2131.4 729.7v6.6M2262.6 729.7v6.6M2393.8 729.7v6.6" fill="none" stroke="#000" stroke-width="3" stroke-linecap="round"/>
<text class="tk" transform="translate(1464.6 105.1) scale(1 1.04)" text-anchor="end">100</text>
<text class="tk" transform="translate(1464.6 317.8) scale(1 1.04)" text-anchor="end">95</text>
<text class="tk" transform="translate(1464.6 530.4) scale(1 1.04)" text-anchor="end">90</text>
<text class="tk" transform="translate(1464.6 743.1) scale(1 1.04)" text-anchor="end">85</text>
<text class="tk" transform="translate(1540.9 788.0) scale(1 1.04)" text-anchor="middle">50</text>
<text class="tk" transform="translate(1672.1 788.0) scale(1 1.04)" text-anchor="middle">100</text>
<text class="tk" transform="translate(1803.3 788.0) scale(1 1.04)" text-anchor="middle">150</text>
<text class="tk" transform="translate(1934.5 788.0) scale(1 1.04)" text-anchor="middle">200</text>
<text class="tk" transform="translate(2065.7 788.0) scale(1 1.04)" text-anchor="middle">250</text>
<text class="tk" transform="translate(2197.0 788.0) scale(1 1.04)" text-anchor="middle">300</text>
<text class="tk" transform="translate(2328.2 788.0) scale(1 1.04)" text-anchor="middle">350</text>
<text class="tk" transform="translate(2459.4 788.0) scale(1 1.04)" text-anchor="middle">400</text>
<text class="pl" transform="translate(1311.6 39.2) scale(1 1.04)">B</text>
<text class="xt" transform="translate(1349.9 375.7) rotate(-90)" text-anchor="middle">Weight (%)</text>
<text class="xt" transform="translate(1974.3 866.6)" text-anchor="middle">Temperature (°C)</text>
<text class="ttl" transform="translate(1567.2 423.6) scale(1 1.04)">TQ1P4</text>
<path d="M1563.1 484.7h89.5" stroke="#f00" stroke-width="3" stroke-linecap="round" fill="none"/>
<path d="M1563.1 534.8h89.5" stroke="#000" stroke-width="3" stroke-linecap="round" stroke-dasharray="9.4 15.6" fill="none"/>
<path d="M1563.1 584.8h89.5" stroke="#000" stroke-width="3" stroke-linecap="round" fill="none"/>
<text class="lg" transform="translate(1664.0 499.0)">Annealed at 110 <tspan class="sup" dy="-19.6">o</tspan><tspan dy="19.6">C after FA treatment</tspan></text>
<text class="lg" transform="translate(1664.0 548.8)">Pristine</text>
<text class="lg" transform="translate(1664.0 598.6)">FA treated</text>
</g>
</svg>
</body>
</html>
